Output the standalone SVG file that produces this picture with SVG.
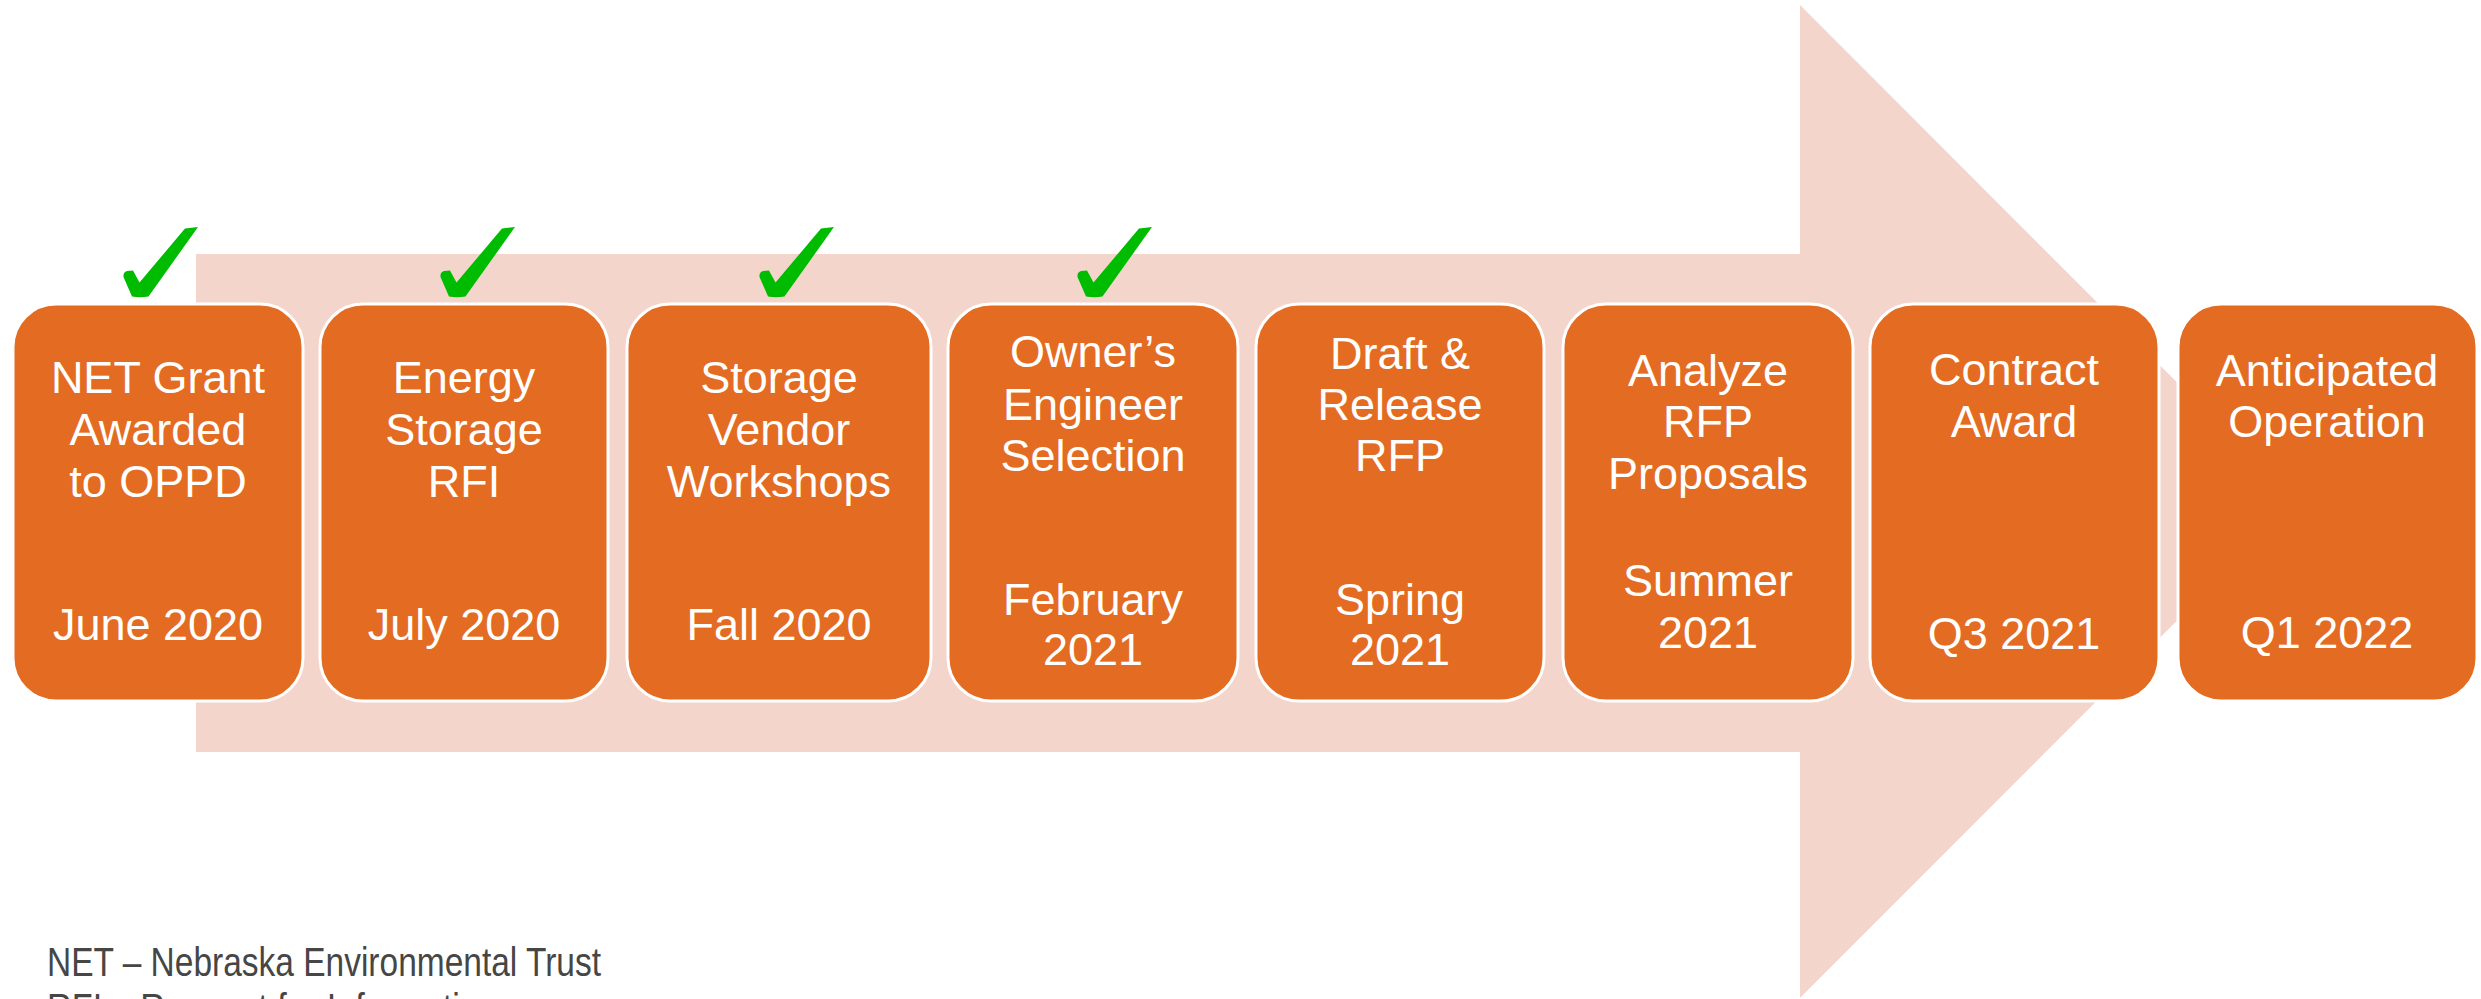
<svg xmlns="http://www.w3.org/2000/svg" width="2481" height="999" viewBox="0 0 2481 999">
<style>
.box{fill:#E46B22;stroke:#FFFFFF;stroke-width:3}
.t{font-family:"Liberation Sans",Arial,sans-serif;font-size:45px;fill:#FFFFFF;text-anchor:middle}
.foot{font-family:"Liberation Sans",Arial,sans-serif;font-size:40px;fill:#464646}
.chk{fill:#00BC00}
</style>
<defs>
<path id="check" d="M62,1.5 L75,0 L25.5,69.5 Q17,71 9,69.5 L0.5,50 Q0,45 4,44 L10,43.5 L16.5,55.5 Z"/>
</defs>
<rect width="2481" height="999" fill="#FFFFFF"/>
<g id="arrow">
<polygon points="196,254 1800,254 1800,5 2296,501.5 1800,998 1800,752 196,752" fill="#F4D5CC"/>
</g>
<g id="checks" class="chk">
<use href="#check" x="123" y="227"/>
<use href="#check" x="440" y="227"/>
<use href="#check" x="759" y="227"/>
<use href="#check" x="1077" y="227"/>
</g>
<g id="node1">
<rect class="box" x="13" y="304" width="290" height="397" rx="43"/>
<text class="t" x="158" y="393">NET Grant</text>
<text class="t" x="158" y="445">Awarded</text>
<text class="t" x="158" y="497">to OPPD</text>
<text class="t" x="158" y="640">June 2020</text>
</g>
<g id="node2">
<rect class="box" x="320" y="304" width="288" height="397" rx="43"/>
<text class="t" x="464" y="393">Energy</text>
<text class="t" x="464" y="445">Storage</text>
<text class="t" x="464" y="497">RFI</text>
<text class="t" x="464" y="640">July 2020</text>
</g>
<g id="node3">
<rect class="box" x="627" y="304" width="304" height="397" rx="43"/>
<text class="t" x="779" y="393">Storage</text>
<text class="t" x="779" y="445">Vendor</text>
<text class="t" x="779" y="497">Workshops</text>
<text class="t" x="779" y="640">Fall 2020</text>
</g>
<g id="node4">
<rect class="box" x="948" y="304" width="290" height="397" rx="43"/>
<text class="t" x="1093" y="367">Owner’s</text>
<text class="t" x="1093" y="420">Engineer</text>
<text class="t" x="1093" y="471">Selection</text>
<text class="t" x="1093" y="615">February</text>
<text class="t" x="1093" y="665">2021</text>
</g>
<g id="node5">
<rect class="box" x="1256" y="304" width="288" height="397" rx="43"/>
<text class="t" x="1400" y="369">Draft &amp;</text>
<text class="t" x="1400" y="420">Release</text>
<text class="t" x="1400" y="471">RFP</text>
<text class="t" x="1400" y="615">Spring</text>
<text class="t" x="1400" y="665">2021</text>
</g>
<g id="node6">
<rect class="box" x="1563" y="304" width="290" height="397" rx="43"/>
<text class="t" x="1708" y="386">Analyze</text>
<text class="t" x="1708" y="437">RFP</text>
<text class="t" x="1708" y="489">Proposals</text>
<text class="t" x="1708" y="596">Summer</text>
<text class="t" x="1708" y="648">2021</text>
</g>
<g id="node7">
<rect class="box" x="1870" y="304" width="289" height="397" rx="43"/>
<text class="t" x="2014" y="385">Contract</text>
<text class="t" x="2014" y="437">Award</text>
<text class="t" x="2014" y="649">Q3 2021</text>
</g>
<g id="node8">
<rect class="box" x="2178" y="304" width="299" height="397" rx="43"/>
<text class="t" x="2327" y="386">Anticipated</text>
<text class="t" x="2327" y="437">Operation</text>
<text class="t" x="2327" y="648">Q1 2022</text>
</g>
<g id="footer">
<text class="foot" x="47" y="976" textLength="554" lengthAdjust="spacingAndGlyphs">NET – Nebraska Environmental Trust</text>
<text class="foot" x="47" y="1022" textLength="451" lengthAdjust="spacingAndGlyphs">RFI – Request for Information</text>
</g>
</svg>
